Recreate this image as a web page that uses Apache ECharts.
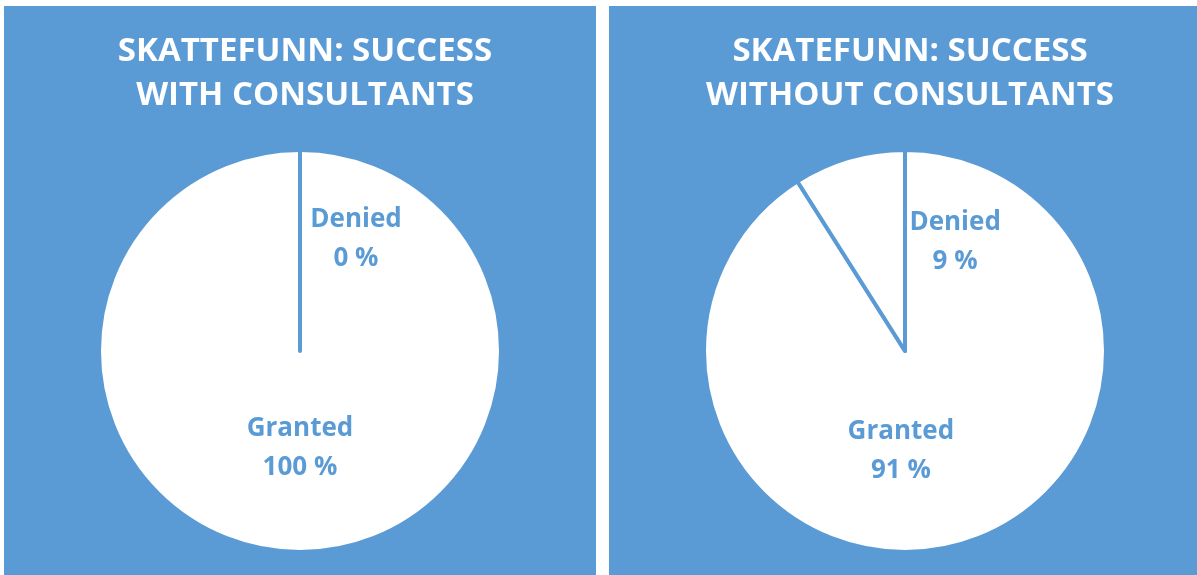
<!DOCTYPE html>
<html>
<head>
<meta charset="utf-8">
<script src="https://cdn.jsdelivr.net/npm/echarts@6/dist/echarts.min.js"></script>
<style>
  html, body { margin: 0; padding: 0; background: #fff; }
  #chart { width: 1197px; height: 575px; }
</style>
</head>
<body>
<div id="chart"></div>
<script>
// data
const categories = ["Granted", "Denied"];
const withConsultants = [100, 0];
const withoutConsultants = [91, 9];
const titles = ["SKATTEFUNN: SUCCESS\nWITH CONSULTANTS", "SKATEFUNN: SUCCESS\nWITHOUT CONSULTANTS"];

const blue = "#5b9bd5";

// label nudges (Excel puts them a bit off the mid angle)
const labelShift = [
  [{ dx: 0, dy: -6 }, { dx: 56, dy: -8 }],
  [{ dx: -33, dy: 1 }, { dx: 79, dy: -10 }]
];

let myChart = echarts.init(document.getElementById("chart"));

function pie(values, idx, cx) {
  return {
    type: "pie",
    center: [cx, 351],
    radius: 201,
    startAngle: 90,
    clockwise: true,
    silent: true,
    data: categories.map((c, i) => ({ name: c, value: values[i] })),
    itemStyle: {
      color: "#fff",
      borderColor: blue,
      borderWidth: 4,
    },
    label: {
      show: true,
      position: "inside",
      formatter: "{b}\n{c} %",
      color: blue,
      fontFamily: "Open Sans",
      fontWeight: "bold",
      fontSize: 26,
      lineHeight: 39,
    },
    labelLine: { show: false },
    labelLayout: (p) => labelShift[idx][p.dataIndex],
    emphasis: { disabled: true },
  };
}

const titleStyle = { color: "#fff", fontFamily: "Open Sans", fontWeight: "bold", fontSize: 33, lineHeight: 44 };

myChart.setOption({
  animation: false,
  backgroundColor: "#fff",
  graphic: [
    { type: "rect", z: -10, shape: { x: 4, y: 6, width: 592, height: 569 }, style: { fill: blue } },
    { type: "rect", z: -10, shape: { x: 609, y: 6, width: 588, height: 569 }, style: { fill: blue } },
  ],
  title: [
    { text: titles[0], left: 300, top: 25, textAlign: "center", textStyle: titleStyle },
    { text: titles[1], left: 905, top: 25, textAlign: "center", textStyle: titleStyle },
  ],
  series: [pie(withConsultants, 0, 300), pie(withoutConsultants, 1, 905)],
});

window.addEventListener("resize", () => {
  myChart.resize();
});
</script>
</body>
</html>
